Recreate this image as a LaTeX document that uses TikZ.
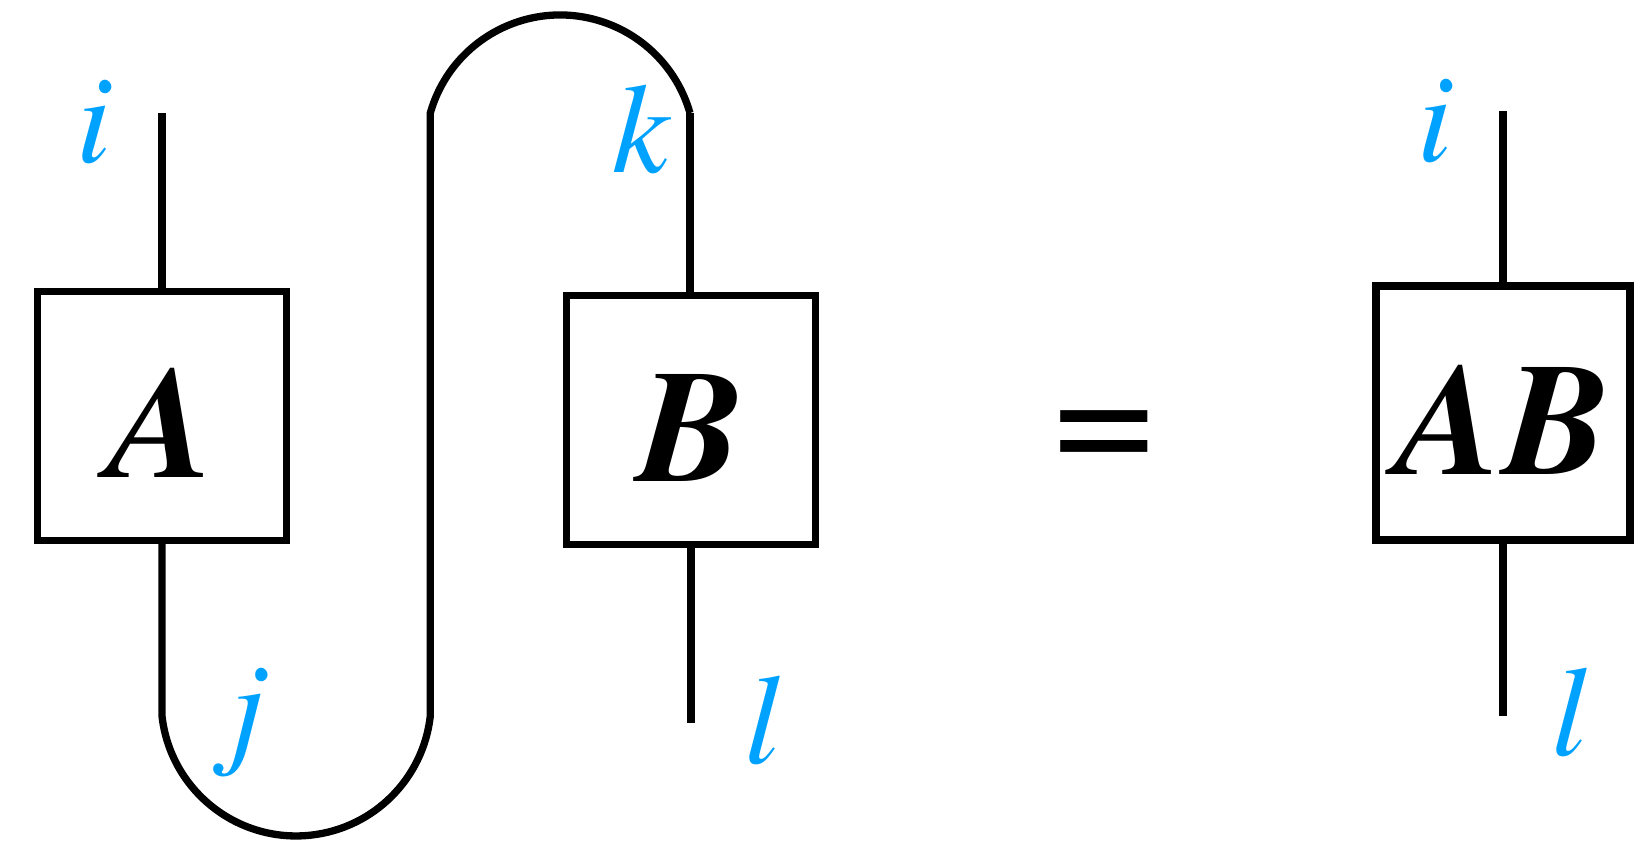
\documentclass[tikz,border=0pt]{standalone}
\usepackage{fontspec}
\setmainfont{texgyretermes}[
  Extension=.otf,
  UprightFont=*-regular,
  ItalicFont=*-italic,
  BoldFont=*-bold,
  BoldItalicFont=*-bolditalic]
\usetikzlibrary{positioning}
\definecolor{idxblue}{RGB}{0,162,255}

\begin{document}
\begin{tikzpicture}[x=0.5pt,y=0.5pt,line width=3.65pt,
  tensor/.style={draw,minimum width=124.5pt,minimum height=124.5pt,inner sep=0pt,
    text height=61pt,text depth=0pt,
    font=\fontsize{80}{80}\selectfont\bfseries\itshape},
  idx/.style={text=idxblue,inner sep=0pt,anchor=base,
    font=\fontsize{64}{64}\selectfont\itshape}]
\useasboundingbox (0,0) rectangle (1645,-845);
% the two tensors and their product
\node[tensor] (A) at (162,-416) {A};
\node[tensor] (B) at (691,-420) {B};
\node[tensor,minimum width=127pt,minimum height=127pt] (AB) at (1503,-413) {AB};
\node[inner sep=0pt,anchor=base,font=\fontsize{90}{90}\selectfont] (eq) at (1104,-476) {=};
% open ends of the legs
\coordinate (iA) at (162,-113);
\coordinate (jL) at (162,-716);
\coordinate (lB) at (691,-723);
\coordinate (iAB) at (1503,-111);
\coordinate (lAB) at (1503,-716);
\draw (iA) -- (A.north);
\draw (A.south) -- (jL) arc[start angle=186.4,end angle=353.6,radius=135]
  -- ++(0,603) coordinate (kL) arc[start angle=164.1,end angle=15.9,radius=135]
  coordinate (kR);
\draw (kR) -- (kR |- B.north);
\draw (B.south) -- (lB);
\draw (iAB) -- (AB.north);
\draw (AB.south) -- (lAB);
% index labels
\node[idx] (ti) at (94,-163) {i};
\node[idx] (tj) at (247,-750) {j};
\node[idx] (tk) at (641,-173) {k};
\node[idx] (tl) at (762,-763) {l};
\node[idx] (tiAB) at (1435,-162) {i};
\node[idx] (tlAB) at (1569,-755) {l};
\end{tikzpicture}
\end{document}
